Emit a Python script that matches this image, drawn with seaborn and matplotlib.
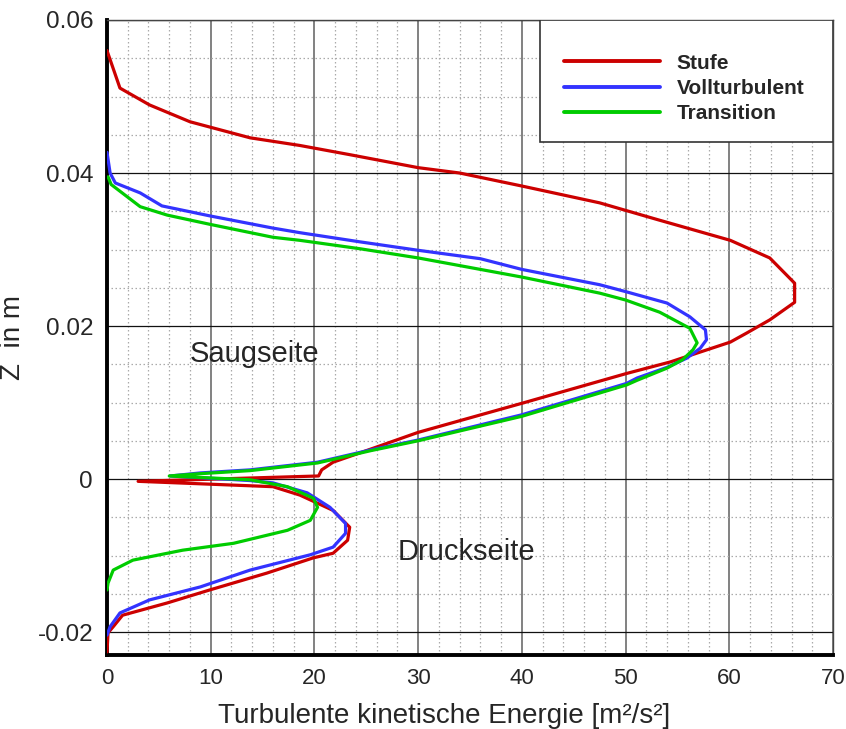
import matplotlib
matplotlib.use("Agg")
import matplotlib.pyplot as plt
import matplotlib.patches as mpatches
from matplotlib.ticker import MultipleLocator, FixedLocator
import numpy as np
import pandas as pd
import seaborn as sns

# ---------------- data ----------------
series_names = ["Stufe", "Vollturbulent", "Transition"]
series_colors = ["#cc0000", "#3333ff", "#00cc00"]

stufe_tke = [0.0, 1.25, 4.1, 8.0, 13.8, 18.6, 23.4, 30.0, 34.0, 40.0, 47.5, 53.1,
             60.1, 63.9, 66.3, 66.3, 63.9, 61.7, 60.1, 57.2, 54.3, 50.1, 40.0,
             30.0, 25.4, 21.8, 20.7, 20.4, 3.0, 16.0, 18.6, 21.8, 23.4, 23.2,
             21.8, 19.9, 15.4, 9.9, 5.8, 1.5, 0.6, 0.1, 0.0]
stufe_z = [0.0560, 0.0511, 0.0489, 0.0467, 0.0446, 0.0436, 0.0424, 0.0407, 0.0400,
           0.0383, 0.0361, 0.0339, 0.0312, 0.0289, 0.0256, 0.0231, 0.0208, 0.0191,
           0.0179, 0.0166, 0.0153, 0.0138, 0.0099, 0.0061, 0.0039, 0.0022, 0.0012,
           0.0004, -0.0003, -0.0010, -0.0021, -0.0041, -0.0063, -0.0080, -0.0097,
           -0.0103, -0.0123, -0.0145, -0.0162, -0.0178, -0.0193, -0.0201, -0.0226]

voll_tke = [0.0, 0.3, 0.8, 3.2, 5.3, 9.9, 16.0, 18.6, 24.4, 30.0, 36.0, 40.0, 47.5,
            50.0, 54.0, 56.2, 57.7, 57.8, 57.2, 55.9, 54.0, 51.1, 50.1, 40.0, 30.0,
            25.4, 20.3, 13.8, 9.0, 6.1, 13.8, 16.0, 19.3, 21.5, 23.0, 23.0, 21.8,
            19.6, 13.8, 9.0, 4.1, 1.25, 0.3, 0.0]
voll_z = [0.0427, 0.0400, 0.0387, 0.0374, 0.0357, 0.0344, 0.0328, 0.0322, 0.0310,
          0.0299, 0.0288, 0.0274, 0.0254, 0.0245, 0.0230, 0.0212, 0.0195, 0.0182,
          0.0171, 0.0158, 0.0146, 0.0132, 0.0125, 0.0084, 0.0051, 0.0038, 0.0022,
          0.0012, 0.0008, 0.0004, -0.0002, -0.0005, -0.0018, -0.0037, -0.0058,
          -0.0071, -0.0089, -0.0099, -0.0119, -0.0141, -0.0158, -0.0175, -0.0193,
          -0.0204]

trans_tke = [0.1, 0.4, 3.2, 5.8, 9.9, 16.0, 18.6, 24.4, 30.0, 40.0, 47.5, 50.0, 53.3,
             56.2, 56.9, 56.5, 55.5, 54.0, 51.1, 50.1, 40.0, 30.0, 25.4, 20.3, 13.8,
             9.0, 6.0, 13.8, 17.4, 19.9, 20.3, 19.6, 17.4, 12.2, 7.3, 2.5, 0.6, 0.1,
             0.0]
trans_z = [0.0395, 0.0385, 0.0356, 0.0345, 0.0333, 0.0316, 0.0312, 0.0301, 0.0289,
           0.0264, 0.0243, 0.0234, 0.0218, 0.0197, 0.0178, 0.0169, 0.0156, 0.0145,
           0.0129, 0.0123, 0.0082, 0.0050, 0.0037, 0.0021, 0.0011, 0.0007, 0.0004,
           -0.0001, -0.0010, -0.0025, -0.0037, -0.0054, -0.0067, -0.0084, -0.0093,
           -0.0106, -0.0119, -0.0136, -0.0145]

x_ticks = [0, 10, 20, 30, 40, 50, 60, 70]
y_ticks = [-0.02, 0.0, 0.02, 0.04, 0.06]
y_tick_labels = ["-0.02", "0", "0.02", "0.04", "0.06"]

# ---------------- build long table ----------------
frames = []
for name, xs, zs in zip(series_names, [stufe_tke, voll_tke, trans_tke],
                        [stufe_z, voll_z, trans_z]):
    frames.append(pd.DataFrame({"tke": xs, "z": zs, "series": name}))
df = pd.concat(frames, ignore_index=True)

sns.set_style("white")
plt.rcParams["font.family"] = ["Liberation Sans", "DejaVu Sans"]

fig = plt.figure(figsize=(8.46, 7.29), dpi=100)
ax = fig.add_axes([107 / 846, 1 - 655 / 729, 726 / 846, 635 / 729])

sns.lineplot(data=df, x="tke", y="z", hue="series", hue_order=series_names,
             palette=dict(zip(series_names, series_colors)), sort=False,
             estimator=None, linewidth=2.3, ax=ax, legend=True, zorder=3)

ax.set_xlim(0, 70)
ax.set_ylim(-0.023, 0.06)

# grid
ax.xaxis.set_major_locator(FixedLocator(x_ticks))
ax.xaxis.set_minor_locator(MultipleLocator(2))
ax.yaxis.set_major_locator(FixedLocator(y_ticks))
ax.yaxis.set_minor_locator(MultipleLocator(0.005))
ax.set_yticklabels(y_tick_labels)
ax.grid(False)
ax.grid(which="minor", axis="both", color="#aaaaaa", linestyle=(0, (1.2, 2.0)),
        linewidth=0.9, zorder=0)
ax.grid(which="major", axis="x", color="#777777", linestyle="-", linewidth=1.3, zorder=1)
ax.grid(which="major", axis="y", color="#111111", linestyle="-", linewidth=0.9, zorder=1)
ax.set_axisbelow(True)

# spines
for s in ["left", "bottom"]:
    ax.spines[s].set_linewidth(2.8)
    ax.spines[s].set_color("black")
for s in ["top", "right"]:
    ax.spines[s].set_linewidth(1.0)
    ax.spines[s].set_color("#444444")

ax.tick_params(axis="both", which="major", direction="in", length=13, width=2.8,
               color="black")
ax.tick_params(axis="both", which="minor", direction="in", length=8, width=1.0,
               color="black")
ax.tick_params(axis="x", which="both", top=False, pad=9)
ax.tick_params(axis="y", which="both", right=False, pad=10)

for lbl in ax.get_xticklabels():
    lbl.set_fontsize(16)
for lbl in ax.get_yticklabels():
    lbl.set_fontsize(17.5)

ax.set_xlabel("Turbulente kinetische Energie [m²/s²]", fontsize=20, labelpad=12)
ax.xaxis.set_label_coords(0.464, -0.075)
ax.set_ylabel("Z  in m", fontsize=20, labelpad=8)

# annotations
ax.text(8.0, 0.0153, "Saugseite", fontsize=21, va="baseline", ha="left")
ax.text(28.0, -0.0106, "Druckseite", fontsize=21, va="baseline", ha="left")

# legend
handles, labels = ax.get_legend_handles_labels()
rect = mpatches.Rectangle((0.596, 0.808), 0.404, 0.192, transform=ax.transAxes,
                          facecolor="white", edgecolor="#333333", linewidth=1.2,
                          zorder=4)
ax.add_patch(rect)
leg = ax.legend(handles, labels, loc="upper left", bbox_to_anchor=(0.6295, 0.947),
                borderaxespad=0, borderpad=0, frameon=False, handlelength=4.6,
                handletextpad=0.8, labelspacing=0.3,
                prop={"family": "Liberation Sans", "weight": "bold", "size": 15})
leg.set_zorder(5)
for h in leg.get_lines():
    h.set_linewidth(2.8)

fig.savefig("out.png", dpi=100)
